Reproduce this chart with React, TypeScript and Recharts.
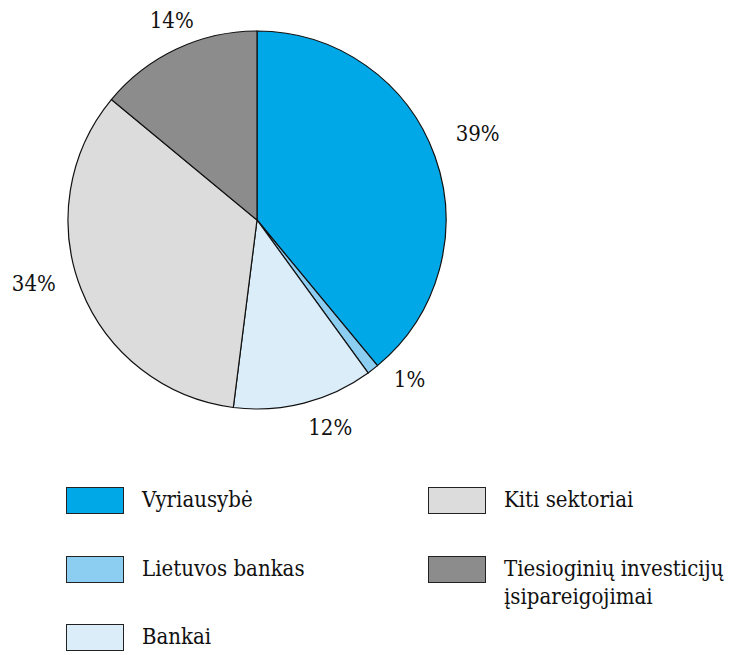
import { PieChart, Pie, Cell, Legend } from 'recharts';

const categories = ['Vyriausybė', 'Lietuvos bankas', 'Bankai', 'Kiti sektoriai', 'Tiesioginių investicijų įsipareigojimai'];
const shares = [39, 1, 12, 34, 14];
const colors = ['#00a8e8', '#8ccdf2', '#dcedfa', '#dcdcdc', '#8c8c8c'];

const data = categories.map((name, i) => ({ name, value: shares[i] }));

const FONT = '"DejaVu Serif Condensed", "DejaVu Serif", serif';
const RAD = Math.PI / 180;

// small hand nudges so the percent labels sit where the original put them
const labelNudge = [
  [8, -10],
  [14, -19],
  [17, -11],
  [-13, -20],
  [11, 5],
];

const renderLabel = (props: any) => {
  const { cx, cy, midAngle, value, index } = props;
  const r = 226;
  const x = cx + r * Math.cos(-midAngle * RAD) + labelNudge[index][0];
  const y = cy + r * Math.sin(-midAngle * RAD) + labelNudge[index][1];
  return (
    <text
      x={x}
      y={y}
      textAnchor="middle"
      dominantBaseline="central"
      style={{ fontFamily: FONT, fontStretch: 'condensed' }}
      fontSize={22}
      fill="#111"
    >
      {value}%
    </text>
  );
};

// legend boxes: two columns, first column has three rows
const legendPos = [
  { left: 66, top: 487 },
  { left: 66, top: 556 },
  { left: 66, top: 624 },
  { left: 428, top: 487 },
  { left: 428, top: 556 },
];

const renderLegend = () => (
  <div style={{ position: 'relative', width: 730, height: 655 }}>
    {data.map((d, i) => (
      <div key={d.name} style={{ position: 'absolute', left: legendPos[i].left, top: legendPos[i].top }}>
        <div
          style={{
            position: 'absolute',
            left: 0,
            top: 0,
            width: 56,
            height: 25,
            background: colors[i],
            border: '1px solid #222',
          }}
        />
        <div
          style={{
            position: 'absolute',
            left: 76,
            top: -1,
            width: 300,
            fontFamily: FONT,
            fontStretch: 'condensed',
            fontSize: 22,
            lineHeight: '28px',
            color: '#111',
            whiteSpace: 'pre-line',
          }}
        >
          {d.name === 'Tiesioginių investicijų įsipareigojimai' ? 'Tiesioginių investicijų\nįsipareigojimai' : d.name}
        </div>
      </div>
    ))}
  </div>
);

export default function App() {
  return (
    <div style={{ position: 'absolute', left: 0, top: 0, width: 730, height: 655, background: '#fff' }}>
      <PieChart width={730} height={655} margin={{ top: 0, right: 0, bottom: 0, left: 0 }}>
        <Pie
          data={data}
          dataKey="value"
          cx={257}
          cy={220}
          outerRadius={189}
          startAngle={90}
          endAngle={-270}
          stroke="#111"
          strokeWidth={1.2}
          label={renderLabel}
          labelLine={false}
          isAnimationActive={false}
        >
          {data.map((d, i) => (
            <Cell key={d.name} fill={colors[i]} />
          ))}
        </Pie>
        <Legend
          content={renderLegend}
          wrapperStyle={{ position: 'absolute', left: 0, top: 0, width: 730, height: 655 }}
        />
      </PieChart>
    </div>
  );
}
